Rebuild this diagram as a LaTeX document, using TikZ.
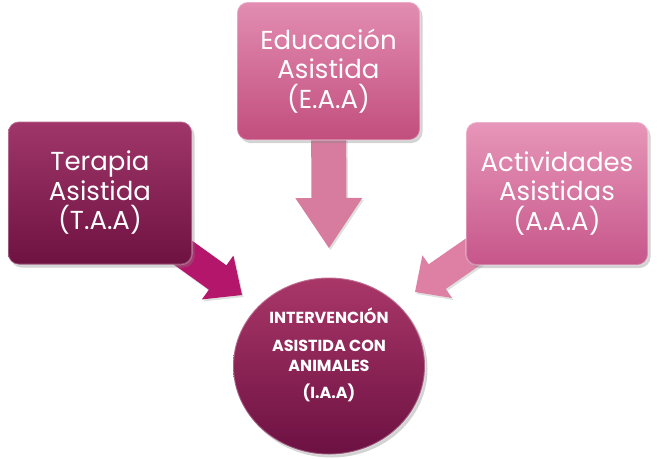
\documentclass[tikz,border=0pt]{standalone}
\usepackage{fontspec}
\setmainfont{Poppins}
\usetikzlibrary{calc,shadows,shapes.geometric}
\definecolor{taaTop}{HTML}{A0366A}
\definecolor{taaBot}{HTML}{6E1241}
\definecolor{eaaTop}{HTML}{E28DB1}
\definecolor{eaaBot}{HTML}{C24E7E}
\definecolor{aaaTop}{HTML}{E796B9}
\definecolor{aaaBot}{HTML}{C6568A}
\definecolor{iaaTop}{HTML}{A93768}
\definecolor{iaaBot}{HTML}{6C1142}
\definecolor{arrL}{HTML}{B3166A}
\definecolor{arrT}{HTML}{D87C9F}
\definecolor{arrR}{HTML}{DD80A4}
\newcommand{\fatarrow}[6]{%
  \coordinate (ahb) at ($(#2)!#5!(#1)$);
  \fill[#6, drop shadow={shadow xshift=1.5pt, shadow yshift=-2pt, opacity=0.25}]
    ($(#1)!#3!90:(#2)$) -- ($(ahb)!#3!90:(#2)$) -- ($(ahb)!#4!90:(#2)$)
    -- (#2) -- ($(ahb)!#4!-90:(#2)$) -- ($(ahb)!#3!-90:(#2)$)
    -- ($(#1)!#3!-90:(#2)$) -- cycle;}
\begin{document}
\begin{tikzpicture}[x=1pt,y=-1pt,
  box/.style={rectangle, rounded corners=11pt, minimum width=184pt, minimum height=143pt,
    text=white, align=center, font=\fontsize{26}{29.5}\selectfont,
    draw=white, draw opacity=0.28, line width=1.6pt,
    drop shadow={shadow xshift=2.5pt, shadow yshift=-3pt, opacity=0.35}},
  hub/.style={ellipse, minimum width=192pt, minimum height=177pt, inner sep=0pt,
    draw=white, draw opacity=0.3, line width=1.8pt,
    drop shadow={shadow xshift=2.5pt, shadow yshift=-3pt, opacity=0.35}},
  hubtext/.style={text=white, align=center, inner sep=0pt,
    font=\bfseries\fontsize{16}{20}\selectfont}]
\useasboundingbox (0,0) rectangle (666,458);
% node positions
\coordinate (taac) at (100,193);
\coordinate (eaac) at (328.5,71);
\coordinate (aaac) at (557,193.5);
\coordinate (tipL) at (242,295);
\coordinate (tipT) at (329,248);
\coordinate (tipR) at (415,292);
% arrows (behind the boxes)
\fatarrow{taac}{tipL}{15pt}{27pt}{30pt}{arrL}
\fatarrow{eaac}{tipT}{17.5pt}{33.5pt}{50pt}{arrT}
\fatarrow{aaac}{tipR}{15pt}{26pt}{27pt}{arrR}
% boxes
\node[box, top color=taaTop, bottom color=taaBot] (taa) at (taac)
  {Terapia\\Asistida\\(T.A.A)};
\node[box, top color=eaaTop, bottom color=eaaBot, minimum width=183pt, minimum height=138pt] (eaa) at (eaac)
  {Educación\\Asistida\\(E.A.A)};
\node[box, top color=aaaTop, bottom color=aaaBot, minimum width=182pt] (aaa) at (aaac)
  {Actividades\\Asistidas\\(A.A.A)};
% hub
\node[hub, top color=iaaTop, bottom color=iaaBot] (iaa) at (329,366) {};
\node[hubtext] (iaatext) at ($(iaa.center)+(0,-11)$)
  {INTERVENCIÓN\\[7.5pt]ASISTIDA CON\\ANIMALES\\[7.5pt](I.A.A)};
\end{tikzpicture}
\end{document}
